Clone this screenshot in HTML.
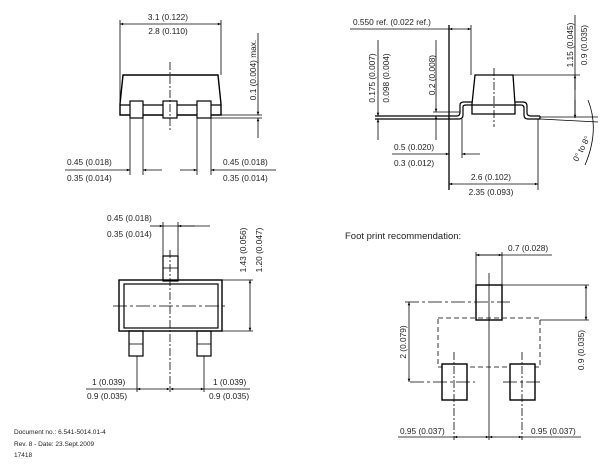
<!DOCTYPE html>
<html><head><meta charset="utf-8"><style>
html,body{margin:0;padding:0;background:#fff}
svg{display:block}
text{font-family:"Liberation Sans",sans-serif;font-size:8.3px;fill:#222}
</style></head><body>
<svg width="608" height="471" viewBox="0 0 608 471" xmlns="http://www.w3.org/2000/svg">
<defs>
<marker id="a" viewBox="0 0 10 10" refX="10" refY="5" markerWidth="6" markerHeight="4" orient="auto-start-reverse"><path d="M0,1 L10,5 L0,9z" fill="#000"/></marker>
</defs>
<g stroke="#000" stroke-width="0.8" fill="none">
<line x1="120" y1="20" x2="120" y2="106"/><line x1="221" y1="20" x2="221" y2="75"/>
<line x1="120" y1="24" x2="221" y2="24" marker-start="url(#a)" marker-end="url(#a)"/>
<path d="M123,75 L218,75 L221,104 L221,115 L120,115 L120,104 Z" stroke-width="1.4"/>
<line x1="120" y1="105" x2="221" y2="105" stroke-width="1.2"/>
<rect x="130" y="101" width="13" height="17" fill="#fff" stroke-width="1.2"/>
<rect x="163" y="101" width="14" height="17" fill="#fff" stroke-width="1.2"/>
<rect x="197" y="101" width="14" height="17" fill="#fff" stroke-width="1.2"/>
<line x1="170" y1="62" x2="170" y2="130" stroke-dasharray="8,2,2,2"/>
<line x1="258" y1="33" x2="258" y2="115" marker-end="url(#a)"/>
<line x1="258" y1="138" x2="258" y2="118" marker-end="url(#a)"/>
<line x1="211" y1="115" x2="262" y2="115"/><line x1="211" y1="118" x2="262" y2="118"/>
<line x1="130" y1="118" x2="130" y2="175"/><line x1="143" y1="118" x2="143" y2="175"/>
<line x1="197" y1="118" x2="197" y2="175"/><line x1="211" y1="118" x2="211" y2="175"/>
<line x1="65" y1="170" x2="130" y2="170" marker-end="url(#a)"/><line x1="162" y1="170" x2="143" y2="170" marker-end="url(#a)"/>
<line x1="180" y1="170" x2="197" y2="170" marker-end="url(#a)"/><line x1="276" y1="170" x2="211" y2="170" marker-end="url(#a)"/>
<line x1="350" y1="29" x2="449" y2="29"/>
<line x1="449" y1="29" x2="471" y2="29" marker-start="url(#a)" marker-end="url(#a)"/>
<line x1="449" y1="25" x2="449" y2="190" stroke-width="1.3"/><line x1="471" y1="25" x2="471" y2="75"/>
<path d="M475,75 L513,75 L515,104 L515,114 L472,114 L472,104 Z" stroke-width="1.3"/>
<line x1="472" y1="105" x2="515" y2="105" stroke-width="1.2"/>
<path d="M375,116 L457,116 Q460,116 460,112 L460,105 Q460,102 464,102 L472,102" stroke-width="1.2"/>
<path d="M375,119 L459,119 Q463,119 463,115 L463,107 Q463,105 466,105 L472,105" stroke-width="1.2"/>
<path d="M515,102 L523,102 Q527,102 527,106 L527,113 Q527,116 531,116 L540,116" stroke-width="1.2"/>
<path d="M515,105 L521,105 Q524,105 524,108 L524,115 Q524,119 528,119 L540,119 L540,116" stroke-width="1.2"/>
<line x1="494" y1="68" x2="494" y2="127" stroke-dasharray="8,2,2,2"/>
<line x1="513" y1="75" x2="580" y2="75"/>
<line x1="575" y1="15" x2="575" y2="118"/>
<line x1="575" y1="90" x2="575" y2="75" marker-end="url(#a)"/>
<line x1="575" y1="100" x2="575" y2="118" marker-end="url(#a)"/>
<line x1="540" y1="117" x2="598" y2="117"/><line x1="540" y1="119" x2="598" y2="122"/>
<path d="M588,100 Q600,130 585,165"/>
<line x1="378" y1="40" x2="378" y2="116" marker-end="url(#a)"/>
<line x1="378" y1="140" x2="378" y2="119" marker-end="url(#a)"/>
<line x1="436" y1="40" x2="436" y2="112" marker-end="url(#a)"/>
<line x1="436" y1="140" x2="436" y2="116" marker-end="url(#a)"/>
<line x1="433" y1="112" x2="460" y2="112"/>
<line x1="462" y1="119" x2="462" y2="158"/>
<line x1="392" y1="154" x2="449" y2="154" marker-end="url(#a)"/>
<line x1="480" y1="154" x2="462" y2="154" marker-end="url(#a)"/>
<line x1="538" y1="119" x2="538" y2="190"/>
<line x1="449" y1="184" x2="538" y2="184" marker-start="url(#a)" marker-end="url(#a)"/>
<line x1="163" y1="222" x2="163" y2="256"/><line x1="178" y1="222" x2="178" y2="256"/>
<line x1="163" y1="226" x2="210" y2="226"/>
<line x1="150" y1="226" x2="163" y2="226" marker-end="url(#a)"/>
<line x1="195" y1="226" x2="178" y2="226" marker-end="url(#a)"/>
<rect x="163" y="256" width="15" height="25" stroke-width="1.2" fill="#fff"/>
<line x1="163" y1="268" x2="178" y2="268"/>
<rect x="119" y="280" width="103" height="51" stroke-width="1.4"/>
<rect x="124" y="284" width="94" height="44" stroke-width="1.2"/>
<line x1="170" y1="250" x2="170" y2="392" stroke-dasharray="8,2,2,2"/>
<line x1="113" y1="306" x2="228" y2="306" stroke-dasharray="14,3,3,3"/>
<rect x="129" y="331" width="14" height="25" stroke-width="1.2"/><line x1="129" y1="344" x2="143" y2="344"/>
<rect x="197" y="331" width="14" height="25" stroke-width="1.2"/><line x1="197" y1="344" x2="211" y2="344"/>
<line x1="222" y1="280" x2="253" y2="280"/><line x1="222" y1="331" x2="253" y2="331"/>
<line x1="250" y1="280" x2="250" y2="331" marker-start="url(#a)" marker-end="url(#a)"/>
<line x1="137" y1="356" x2="137" y2="392"/><line x1="204" y1="356" x2="204" y2="392"/>
<line x1="86" y1="389" x2="137" y2="389"/><line x1="204" y1="389" x2="250" y2="389"/>
<line x1="137" y1="389" x2="170" y2="389" marker-start="url(#a)" marker-end="url(#a)"/>
<line x1="170" y1="389" x2="204" y2="389" marker-start="url(#a)" marker-end="url(#a)"/>
<line x1="476" y1="252" x2="476" y2="285"/><line x1="502" y1="252" x2="502" y2="285"/>
<line x1="476" y1="255" x2="552" y2="255"/>
<line x1="476" y1="255" x2="502" y2="255" marker-start="url(#a)" marker-end="url(#a)"/>
<rect x="476" y="285" width="26" height="35" stroke-width="1.4"/>
<line x1="489" y1="273" x2="489" y2="440"/>
<line x1="405" y1="302" x2="510" y2="302" stroke-dasharray="14,3,3,3"/>
<rect x="438" y="318" width="102" height="49" stroke-dasharray="5,3"/>
<rect x="442" y="364" width="25" height="36" stroke-width="1.4" fill="#fff"/>
<rect x="510" y="364" width="25" height="36" stroke-width="1.4" fill="#fff"/>
<line x1="454" y1="352" x2="454" y2="440" stroke-dasharray="8,2,2,2"/>
<line x1="522" y1="352" x2="522" y2="440" stroke-dasharray="8,2,2,2"/>
<line x1="410" y1="382" x2="475" y2="382" stroke-dasharray="14,3,3,3"/>
<line x1="503" y1="382" x2="543" y2="382" stroke-dasharray="14,3,3,3"/>
<line x1="409" y1="302" x2="409" y2="382" marker-start="url(#a)" marker-end="url(#a)"/>
<line x1="502" y1="285" x2="589" y2="285"/><line x1="540" y1="320" x2="589" y2="320"/>
<line x1="586" y1="285" x2="586" y2="320" marker-start="url(#a)" marker-end="url(#a)"/>
<line x1="398" y1="437" x2="454" y2="437"/><line x1="522" y1="437" x2="581" y2="437"/>
<line x1="454" y1="437" x2="489" y2="437" marker-start="url(#a)" marker-end="url(#a)"/>
<line x1="489" y1="437" x2="522" y2="437" marker-start="url(#a)" marker-end="url(#a)"/>
</g>
<text x="168" y="20" text-anchor="middle">3.1 (0.122)</text>
<text x="168" y="34" text-anchor="middle">2.8 (0.110)</text>
<text transform="translate(256,70) rotate(-90)" text-anchor="middle">0.1 (0.004) max.</text>
<text x="67" y="165">0.45 (0.018)</text><text x="67" y="181">0.35 (0.014)</text>
<text x="223" y="165">0.45 (0.018)</text><text x="223" y="181">0.35 (0.014)</text>
<text x="353" y="25">0.550 ref. (0.022 ref.)</text>
<text transform="translate(573,45) rotate(-90)" text-anchor="middle">1.15 (0.045)</text>
<text transform="translate(587,45) rotate(-90)" text-anchor="middle">0.9 (0.035)</text>
<text transform="translate(375,78) rotate(-90)" text-anchor="middle">0.175 (0.007)</text>
<text transform="translate(389,78) rotate(-90)" text-anchor="middle">0.098 (0.004)</text>
<text transform="translate(435,75) rotate(-90)" text-anchor="middle">0.2 (0.008)</text>
<text x="394" y="150">0.5 (0.020)</text><text x="394" y="166">0.3 (0.012)</text>
<text x="491" y="180" text-anchor="middle">2.6 (0.102)</text>
<text x="491" y="195" text-anchor="middle">2.35 (0.093)</text>
<text transform="translate(584,150) rotate(-62)" text-anchor="middle">0° to 8°</text>
<text x="107" y="221">0.45 (0.018)</text><text x="107" y="237">0.35 (0.014)</text>
<text transform="translate(246,250) rotate(-90)" text-anchor="middle">1.43 (0.056)</text>
<text transform="translate(262,250) rotate(-90)" text-anchor="middle">1.20 (0.047)</text>
<text x="92" y="385">1 (0.039)</text><text x="87" y="399">0.9 (0.035)</text>
<text x="213" y="385">1 (0.039)</text><text x="209" y="399">0.9 (0.035)</text>
<text x="14" y="434" style="font-size:6.5px">Document no.: 6.541-5014.01-4</text>
<text x="14" y="446" style="font-size:6.5px">Rev. 8 - Date: 23.Sept.2009</text>
<text x="14" y="457" style="font-size:6.5px">17418</text>
<text x="345" y="239" style="font-size:9.5px">Foot print recommendation:</text>
<text x="508" y="251">0.7 (0.028)</text>
<text transform="translate(406,342) rotate(-90)" text-anchor="middle">2 (0.079)</text>
<text transform="translate(584,350) rotate(-90)" text-anchor="middle">0.9 (0.035)</text>
<text x="400" y="434">0.95 (0.037)</text>
<text x="531" y="434">0.95 (0.037)</text>
</svg>
</body></html>
